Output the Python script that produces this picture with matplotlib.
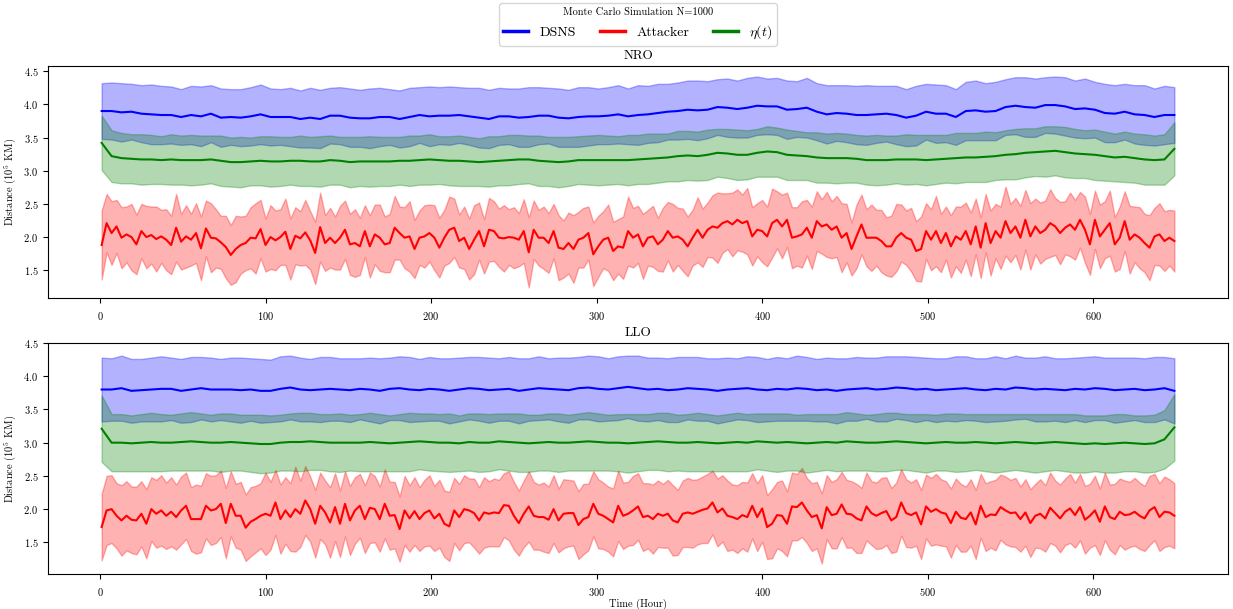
import matplotlib
matplotlib.use("Agg")
import matplotlib.pyplot as plt
from matplotlib.lines import Line2D
import numpy as np

plt.rcParams["font.family"] = "serif"
plt.rcParams["font.serif"] = ["cmr10"]
plt.rcParams["mathtext.fontset"] = "cm"
plt.rcParams["axes.formatter.use_mathtext"] = True

# Monte Carlo means and spreads, stored in units of 0.01 x 10^5 km.
# Attacker series sampled every 3 h, DSNS / eta(t) every 6 h, both over 1..649 h.

nro_att_mean = [
    188, 221, 206, 216, 199, 204, 200, 189, 209, 200, 203, 197, 201, 196, 188, 214, 193, 201, 196, 206,
    183, 213, 199, 198, 192, 185, 173, 182, 188, 191, 199, 198, 212, 188, 200, 195, 200, 208, 182, 202,
    198, 207, 195, 176, 215, 191, 199,
    191, 199, 211, 189, 191, 186, 209, 186, 204, 199, 189, 191, 214, 206, 199, 201, 182, 199, 201, 206,
    199, 184, 199, 211, 214, 194, 199, 182, 196, 209, 186, 211, 209, 199, 198, 200, 199, 196, 209, 177,
    211, 199, 199, 191, 209, 184, 182, 191, 182, 196, 199, 206, 174, 186, 196, 199, 179, 186, 184, 209,
    199,
    204, 186, 199, 201, 189, 196, 209, 199, 201, 196, 186, 199, 211, 199, 211, 216, 214, 221, 224, 219,
    226, 221, 224, 201, 211, 209, 201, 221, 226, 216, 226, 199, 201, 204, 214, 199, 224, 216, 219, 211,
    216, 199, 206, 182, 201, 219, 199, 199, 199, 194, 186, 186, 199, 206, 199, 196, 179,
    182, 209, 196, 209, 191, 206, 186, 201, 196, 209, 189, 216, 184, 221, 191, 209, 199, 224, 206, 216,
    199, 226, 201, 216, 206, 211, 221, 216, 206, 214, 219, 211, 226, 211, 189, 226, 201, 211, 221, 189,
    199, 224, 196, 204, 199, 191, 184, 201, 204, 194, 199, 194,
]
nro_att_std = [
    52, 44, 48, 40, 46, 42, 50, 45, 41, 47, 43, 49, 40, 46, 44, 51, 42, 47, 39, 45,
    48, 42, 52, 44, 40, 47, 45, 50, 43, 41, 46, 53, 44, 40, 48, 45, 42, 50, 46, 43,
    41, 49, 44, 47, 52, 42, 45, 40, 48, 44, 46, 51, 43, 39, 47, 45, 50, 42, 44, 48,
    40, 46, 53, 44, 41, 47, 43, 49, 45, 42, 50, 44, 40, 47, 46, 52, 43, 41, 48, 45,
    44, 50, 42, 46, 40, 48, 53, 44, 42, 47, 45, 41, 49, 43, 46, 51, 42, 45, 40, 48,
    46, 43, 50, 44, 41, 47, 52, 45, 43, 49, 42, 46, 40, 48, 44, 51, 43, 47, 45, 42,
    49, 44, 41, 47, 53, 45, 42, 48, 46, 43, 50, 44, 40, 47, 45, 52, 43, 48, 41, 46,
    44, 50, 42, 47, 45, 41, 49, 43, 46, 52, 44, 40, 48, 45, 43, 50, 42, 47, 44, 46,
    51, 43, 41, 48, 45, 49, 42, 46, 53, 44, 40, 47, 45, 50, 43, 48, 42, 46, 44, 49,
    41, 47, 52, 44, 43, 48, 45, 50, 42, 46, 44, 51, 43, 47, 40, 48, 45, 42, 50, 46,
    44, 48, 43, 49, 41, 47, 45, 51, 42, 46, 44, 49, 43, 47, 45, 42, 46,
]
nro_dsns_mean = [
    390, 390, 388, 389, 386, 385, 384, 384, 381, 384, 382, 386, 380, 381, 380, 382, 385, 381, 381, 381,
    378, 380, 378, 383, 383,
    380, 379, 379, 381, 381, 378, 381, 384, 382, 383, 383, 384, 382, 380, 378, 382, 382, 380, 381, 383,
    383, 380, 379, 381, 382, 382, 383, 385, 382,
    384, 385, 387, 389, 390, 392, 391, 392, 396, 395, 393, 395, 398, 397, 397, 392, 393, 395, 389, 385,
    387, 386, 384, 384, 385, 386, 384, 380, 383,
    389, 386, 386, 381, 390, 391, 389, 390, 396, 398, 396, 395, 399, 399, 397, 393, 394, 392, 387, 386,
    389, 385, 384, 381, 384, 384,
]
nro_dsns_std = [
    42, 43, 44, 42, 43, 45, 44, 43, 42, 44, 45, 43, 44, 42, 43, 44, 45, 43, 42, 44,
    43, 45, 44, 42, 43, 44, 43, 45, 44, 42, 43, 44, 42, 45, 43, 44, 42, 43, 45, 44,
    43, 42, 44, 45, 43, 42, 44, 43, 45, 44, 42, 43, 44, 42, 45, 43, 44, 42, 43, 44,
    45, 43, 42, 44, 43, 45, 44, 42, 43, 44, 42, 45, 43, 44, 42, 43, 44, 45, 43, 42,
    44, 43, 45, 42, 44, 43, 42, 44, 45, 43, 44, 42, 43, 45, 44, 42, 43, 44, 43, 45,
    42, 44, 43, 42, 44, 45, 43, 44, 42,
]
nro_eta_mean = [
    342, 322, 319, 318, 317, 317, 316, 317, 316, 316, 316, 317, 315, 313, 313, 314, 315, 314, 314, 315,
    315, 314, 314, 316, 315,
    313, 314, 314, 314, 314, 315, 315, 316, 317, 316, 315, 315, 314, 313, 314, 315, 316, 317, 317, 315,
    314, 313, 314, 316, 316, 316, 316, 316, 316,
    317, 318, 319, 320, 322, 323, 322, 324, 327, 326, 324, 324, 327, 329, 328, 324, 323, 322, 320, 319,
    319, 319, 318, 316, 316, 316, 317, 317, 317,
    316, 317, 318, 319, 320, 320, 321, 322, 324, 325, 327, 328, 329, 330, 328, 326, 325, 324, 322, 320,
    321, 319, 317, 316, 317, 333,
]
nro_eta_std = [
    41, 39, 38, 37, 38, 37, 36, 38, 37, 38, 37, 36, 38, 37, 38, 36, 37, 38, 37, 36,
    38, 37, 38, 37, 36, 38, 37, 38, 37, 37, 36, 38, 37, 38, 36, 37, 38, 37, 36, 38,
    37, 38, 37, 36, 38, 37, 38, 37, 36, 37, 38, 37, 36, 38, 37, 38, 37, 36, 38, 37,
    37, 38, 36, 37, 38, 37, 36, 38, 37, 38, 37, 36, 38, 37, 38, 37, 36, 37, 38, 37,
    36, 38, 37, 38, 37, 36, 38, 37, 37, 38, 36, 37, 38, 37, 36, 38, 37, 38, 37, 36,
    38, 37, 36, 38, 37, 38, 37, 38, 40,
]

llo_att_mean = [
    173, 198, 200, 190, 183, 190, 184, 183, 193, 178, 200, 193, 198, 190, 196, 188, 198, 205, 185, 185,
    185, 205, 198, 200, 208, 179, 208, 190, 190, 172, 181, 185, 190, 193, 190, 210, 185, 198, 188, 200,
    193, 213, 200, 178, 205, 195, 180, 203, 178, 208, 183, 198,
    205, 185, 202, 200, 185, 208, 190, 191, 170, 198, 186, 197, 185, 194, 198, 186, 193, 178, 174, 198,
    188, 200, 198, 194, 183, 195, 193, 195, 194, 206, 205, 190, 179, 193, 204, 190, 188, 188, 184, 200,
    183, 193, 194, 194, 176, 185, 188, 208, 193, 190, 185, 180, 205, 190, 193, 198, 204, 188, 190, 185,
    193, 190, 193, 183, 180, 193, 195, 193, 196, 199, 201, 210, 195, 201, 190, 188, 185, 191, 188, 205,
    188, 201, 173, 178, 191,
    190, 178, 204, 203, 210, 198, 188, 191, 171, 203, 191, 193, 207, 193, 192, 186, 183, 204, 194, 190,
    194, 197, 183, 188, 210, 194, 191, 195, 177, 204, 196, 200, 195, 193, 179, 196, 187, 185, 195, 177,
    205, 188, 192, 191, 203, 198, 194, 195, 185, 195, 179, 190, 193, 186, 202, 194, 186, 196, 201, 191,
    203, 184, 190, 198, 181, 204, 188, 185, 196, 191, 192, 196, 190, 186, 198, 203, 188, 196, 195, 190,
]
llo_att_std = [
    50, 52, 51, 49, 53, 52, 50, 51, 49, 52, 48, 51, 53, 50, 52, 49, 51, 50, 48, 52,
    50, 49, 52, 51, 50, 53, 49, 48, 51, 50, 52, 50, 49, 62, 51, 49, 52, 50, 51, 64,
    50, 52, 49, 51, 50, 48, 53, 51, 50, 49, 52, 50, 48, 51, 53, 50, 49, 52, 51, 50,
    49, 52, 50, 51, 48, 50, 53, 49, 51, 50, 52, 49, 50, 51, 48, 52, 50, 53, 49, 51,
    50, 48, 52, 51, 49, 50, 53, 51, 49, 52, 50, 51, 48, 52, 50, 49, 51, 53, 50, 49,
    52, 50, 49, 51, 53, 50, 48, 52, 50, 51, 49, 52, 50, 48, 51, 53, 49, 50, 52, 51,
    49, 50, 52, 48, 51, 50, 53, 49, 51, 50, 52, 49, 51, 50, 48, 52, 50, 53, 49, 51,
    50, 52, 49, 51, 50, 53, 48, 50, 52, 49, 51, 50, 52, 49, 51, 48, 50, 53, 51, 49,
    52, 50, 51, 49, 50, 52, 48, 51, 53, 50, 49, 52, 50, 51, 49, 50, 52, 48, 51, 50,
    53, 49, 51, 50, 52, 49, 50, 51, 48, 52, 50, 53, 49, 51, 50, 52, 49, 50, 51, 48,
    52, 50, 51, 49, 53, 50, 52, 49, 51, 50, 49, 52, 50, 51, 53, 50, 49,
]
llo_dsns_mean = [
    380, 380, 382, 378, 379, 380, 381, 381, 378, 380, 382, 380, 380, 380, 379, 380, 378, 378, 381, 383,
    380, 379, 380, 381, 380,
    379, 381, 380, 378, 381, 382, 380, 379, 381, 380, 378, 380, 382, 381, 379, 380, 381, 378, 380, 382,
    381, 380, 379, 382, 383, 381, 380, 382, 384, 382, 380, 381, 379, 380, 382, 381, 380, 378, 380, 381,
    382, 380, 379, 381, 380, 382, 381, 379, 380, 378, 380, 381, 382, 380, 381, 383, 382, 380, 381, 379,
    380, 381, 382, 380, 379, 381, 380, 383, 382, 380, 381, 380, 379, 381,
    380, 382, 381, 379, 380, 381, 379, 380, 382, 378,
]
llo_dsns_std = [
    48, 47, 49, 48, 47, 48, 49, 47, 48, 49, 47, 48, 46, 48, 49, 47, 48, 47, 49, 48,
    48, 47, 49, 48, 47, 48, 46, 48, 49, 47, 48, 49, 47, 48, 47, 49, 48, 47, 48, 49,
    47, 48, 49, 47, 48, 46, 48, 49, 47, 48, 49, 47, 48, 47, 49, 48, 47, 48, 49, 47,
    48, 47, 49, 48, 46, 48, 49, 47, 48, 47, 49, 48, 47, 48, 49, 47, 48, 46, 48, 49,
    47, 48, 49, 47, 48, 47, 49, 48, 47, 48, 49, 47, 48, 46, 48, 49, 47, 48, 47, 49,
    48, 47, 49, 48, 47, 48, 49, 47, 49,
]
llo_eta_mean = [
    321, 300, 300, 299, 300, 301, 300, 300, 301, 302, 301, 300, 300, 301, 300, 299, 298, 298, 300, 301,
    301, 302, 301, 300, 300,
    300, 300, 301, 300, 299, 300, 301, 302, 301, 300, 300, 299, 301, 300, 300, 302, 301, 300, 299, 300,
    301, 300, 300, 301, 302, 301, 300, 300, 299, 300, 301, 302, 301, 300, 300, 301, 300, 299, 300, 301,
    300, 302, 301, 300, 301, 300, 299, 300, 301, 300, 302, 301, 300, 300, 301, 302, 301, 300, 299, 300,
    301, 300, 300, 301, 300, 299, 300, 301, 300, 299, 300, 301, 300, 299, 298, 299, 298, 299, 300, 299,
    298, 299, 305, 323,
]
llo_eta_std = [
    50, 43, 43, 42, 43, 44, 43, 42, 43, 44, 43, 42, 44, 43, 42, 43, 44, 43, 42, 43,
    44, 43, 42, 43, 44, 42, 43, 44, 43, 42, 43, 44, 42, 43, 43, 44, 42, 43, 44, 43,
    42, 43, 44, 43, 42, 43, 44, 42, 43, 44, 43, 42, 43, 44, 43, 42, 43, 44, 42, 43,
    44, 43, 42, 43, 44, 43, 42, 43, 44, 43, 42, 44, 43, 42, 43, 44, 43, 42, 43, 44,
    43, 42, 43, 44, 42, 43, 44, 43, 42, 43, 44, 43, 42, 43, 44, 43, 42, 43, 44, 43,
    42, 43, 44, 43, 42, 43, 43, 44, 50,
]

T_START, T_END = 1, 649
SCALE = 0.01


def draw_panel(ax, title, dsns, att, eta):
    series = [(dsns, "blue"), (att, "red"), (eta, "green")]
    for (mean, std), color in series:
        m = np.array(mean) * SCALE
        s = np.array(std) * SCALE
        t = np.linspace(T_START, T_END, len(m))
        ax.fill_between(t, m - s, m + s, color=color, alpha=0.3)
        ax.plot(t, m, color=color, lw=1.5)
    ax.set_title(title, fontsize=9.5, pad=5)
    ax.set_ylabel("Distance ($10^5$ KM)", fontsize=7.5)
    ax.set_yticks(np.arange(1.5, 4.51, 0.5))
    ax.set_xticks(np.arange(0, 601, 100))
    ax.tick_params(labelsize=7.5)
    ax.tick_params(axis="x", pad=5)


fig = plt.figure(figsize=(12.33, 6.09), dpi=100)
ax_nro = fig.add_axes([48 / 1233, 1 - 298 / 609, 1180 / 1233, 232 / 609])
ax_llo = fig.add_axes([48 / 1233, 1 - 574 / 609, 1180 / 1233, 231 / 609])

draw_panel(ax_nro, "NRO", (nro_dsns_mean, nro_dsns_std),
           (nro_att_mean, nro_att_std), (nro_eta_mean, nro_eta_std))
draw_panel(ax_llo, "LLO", (llo_dsns_mean, llo_dsns_std),
           (llo_att_mean, llo_att_std), (llo_eta_mean, llo_eta_std))
ax_llo.set_xlabel("Time (Hour)", fontsize=7.5, labelpad=1)

handles = [
    Line2D([], [], color="blue", lw=2.5),
    Line2D([], [], color="red", lw=2.5),
    Line2D([], [], color="green", lw=2.5),
]
leg = fig.legend(handles, ["DSNS", "Attacker", r"$\eta(t)$"], ncol=3,
                 loc="upper center", bbox_to_anchor=(638 / 1233, 1 - 3 / 609),
                 borderaxespad=0, borderpad=0.3, fontsize=10,
                 title="Monte Carlo Simulation N=1000", title_fontsize=7.5,
                 handlelength=1.8, columnspacing=1.75)

fig.savefig("out.png", dpi=100)
